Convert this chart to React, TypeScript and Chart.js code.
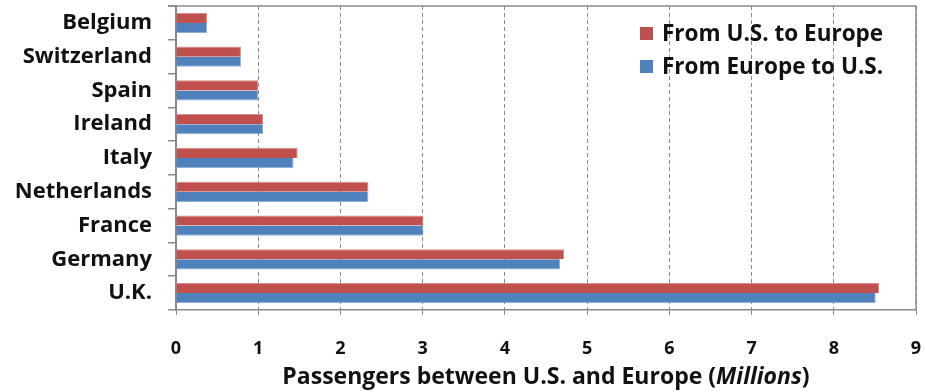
import React, { useEffect, useRef } from "react";
import { Chart, registerables } from "chart.js";

Chart.register(...registerables);

// Passenger traffic between the U.S. and European countries, in millions
const countries = ["Belgium", "Switzerland", "Spain", "Ireland", "Italy", "Netherlands", "France", "Germany", "U.K."];
const usToEurope = [0.38, 0.79, 1.0, 1.06, 1.48, 2.34, 3.01, 4.72, 8.55];
const europeToUs = [0.38, 0.79, 1.0, 1.06, 1.43, 2.34, 3.01, 4.67, 8.51];
const seriesLabels = ["From U.S. to Europe", "From Europe to U.S."];
const seriesColors = ["#C0504D", "#4F81BD"];
const seriesEdges = ["#D68D8B", "#8EAFD8"];
const xMin = 0;
const xMax = 9;
const axisTitleParts = [
  { text: "Passengers between U.S. and Europe (", italic: false },
  { text: "Millions", italic: true },
  { text: ")", italic: false },
];

const FONT = "'Open Sans', 'DejaVu Sans', sans-serif";
const GRID = "#8a8a8a";
const INK = "#111111";

// Solid frame on the top and right edges of the plot area
const framePlugin = {
  id: "frame",
  afterDatasetsDraw(chart: any) {
    const { ctx, chartArea: a } = chart;
    ctx.save();
    ctx.strokeStyle = GRID;
    ctx.lineWidth = 1.5;
    ctx.beginPath();
    ctx.moveTo(a.left - 8, a.top);
    ctx.lineTo(a.right, a.top);
    ctx.lineTo(a.right, a.bottom);
    ctx.stroke();
    ctx.restore();
  },
};

// Legend drawn inside the plot, upper right
const insideLegendPlugin = {
  id: "insideLegend",
  afterDraw(chart: any) {
    const { ctx } = chart;
    const x0 = 640;
    const rowTop = [27, 60];
    ctx.save();
    ctx.font = `bold 22.5px ${FONT}`;
    ctx.textBaseline = "alphabetic";
    ctx.textAlign = "left";
    chart.data.datasets.forEach((ds: any, i: number) => {
      ctx.fillStyle = ds.backgroundColor;
      ctx.fillRect(x0, rowTop[i], 13, 13);
      ctx.fillStyle = INK;
      ctx.fillText(ds.label, x0 + 22, rowTop[i] + 14);
    });
    ctx.restore();
  },
};

// Axis title with an italic unit
const axisTitlePlugin = {
  id: "axisTitle",
  afterDraw(chart: any) {
    const { ctx, chartArea: a } = chart;
    ctx.save();
    ctx.fillStyle = INK;
    ctx.textBaseline = "alphabetic";
    ctx.textAlign = "left";
    const fontFor = (italic: boolean) => `${italic ? "italic " : ""}bold 23px ${FONT}`;
    let total = 0;
    const widths = axisTitleParts.map((p) => {
      ctx.font = fontFor(p.italic);
      const w = ctx.measureText(p.text).width;
      total += w;
      return w;
    });
    let x = (a.left + a.right) / 2 - total / 2;
    axisTitleParts.forEach((p, i) => {
      ctx.font = fontFor(p.italic);
      ctx.fillText(p.text, x, 384);
      x += widths[i];
    });
    ctx.restore();
  },
};

export default function App() {
  const canvasRef = useRef<HTMLCanvasElement | null>(null);

  useEffect(() => {
    if (!canvasRef.current) return;
    const chart = new Chart(canvasRef.current, {
      type: "bar",
      data: {
        labels: countries,
        datasets: [
          {
            label: seriesLabels[0],
            data: usToEurope,
            backgroundColor: seriesColors[0],
            borderColor: seriesEdges[0],
            borderWidth: { top: 1, right: 1, bottom: 0, left: 0 },
          },
          {
            label: seriesLabels[1],
            data: europeToUs,
            backgroundColor: seriesColors[1],
            borderColor: seriesEdges[1],
            borderWidth: { top: 0, right: 1, bottom: 1, left: 0 },
          },
        ],
      },
      options: {
        indexAxis: "y",
        responsive: false,
        animation: false,
        datasets: { bar: { categoryPercentage: 0.6, barPercentage: 1.0, borderSkipped: false } },
        layout: { padding: { left: 0, right: 9, top: 6, bottom: 0 } },
        plugins: { legend: { display: false }, tooltip: { enabled: false } },
        scales: {
          x: {
            min: xMin,
            max: xMax,
            ticks: {
              stepSize: 1,
              padding: 23,
              color: INK,
              font: { family: FONT, size: 18, weight: "bold" },
            },
            grid: {
              color: GRID,
              lineWidth: 1,
              drawTicks: true,
              tickLength: 5,
              tickColor: GRID,
              tickBorderDash: [],
            },
            border: { display: true, color: GRID, width: 1.5, dash: [4, 3] },
            afterFit(scale: any) {
              scale.height = 82;
              scale.paddingLeft = 0;
              scale.paddingRight = 0;
            },
          },
          y: {
            ticks: {
              padding: 16,
              color: INK,
              font: { family: FONT, size: 22, weight: "bold" },
            },
            grid: {
              drawOnChartArea: false,
              drawTicks: true,
              tickLength: 8,
              color: GRID,
              lineWidth: 1.5,
            },
            border: { display: true, color: GRID, width: 2 },
            afterFit(scale: any) {
              scale.width = 176;
              scale.paddingTop = 0;
              scale.paddingBottom = 0;
            },
          },
        },
      },
      plugins: [framePlugin, insideLegendPlugin, axisTitlePlugin],
    });
    return () => chart.destroy();
  }, []);

  return (
    <div style={{ position: "fixed", left: 0, top: 0, width: 925, height: 392, background: "#fff" }}>
      <canvas ref={canvasRef} width={925} height={392} />
    </div>
  );
}
